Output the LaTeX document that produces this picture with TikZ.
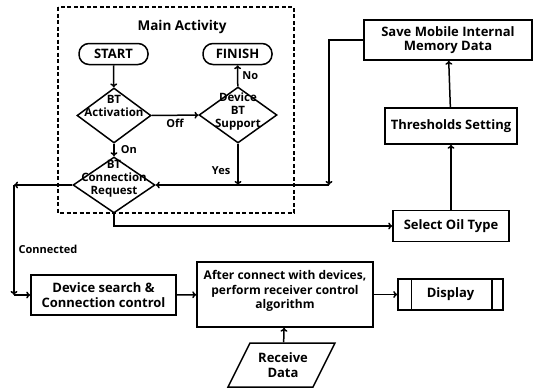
\documentclass[tikz,border=0pt]{standalone}
\usepackage{fontspec}
\setmainfont{Open Sans}
\usetikzlibrary{arrows.meta,shapes.geometric,positioning}

\begin{document}
\begin{tikzpicture}[x=1pt,y=-1pt,line width=1.5pt,
    >={To[length=4pt,width=7pt]},
    font=\bfseries\fontsize{13}{14.5}\selectfont,
    box/.style={draw,rectangle,align=center,inner sep=0pt},
    term/.style={draw,rounded corners=10pt,minimum width=69pt,minimum height=21pt,inner sep=0pt},
    dec/.style={draw,diamond,inner sep=0pt},
    txt/.style={align=center,inner sep=0pt},
    dtxt/.style={align=center,inner sep=0pt,font=\bfseries\fontsize{11.5}{13}\selectfont},
    lbl/.style={inner sep=1pt,font=\bfseries\fontsize{11}{13}\selectfont}]
\useasboundingbox (0,0) rectangle (534,389);

% Main activity frame
\draw[dash pattern=on 4pt off 2.5pt,line width=1.2pt] (58,7) rectangle (294,213);
\node[txt,font=\bfseries\fontsize{13.5}{15}\selectfont] (main) at (182,27) {Main Activity};

% terminals
\node[term] (start) at (113.5,54) {START};
\node[term] (finish) at (237.5,54) {FINISH};

% decisions
\node[dec,minimum width=74pt,minimum height=55pt] (act) at (114,115.5) {};
\node[dtxt] (acttxt) at (114,106) {BT\\Activation};
\node[dec,minimum width=78pt,minimum height=56pt] (dev) at (238,115) {};
\node[dtxt] (devtxt) at (238,112) {Device\\BT\\Support};
\node[dec,minimum width=82pt,minimum height=56pt] (conn) at (114,185) {};
\node[dtxt] (conntxt) at (114,179) {BT\\Connection\\Request};

% right column
\node[box,minimum width=168pt,minimum height=40pt] (save) at (448,40) {Save Mobile Internal\\Memory Data};
\node[box,minimum width=132pt,minimum height=36pt] (thr) at (451,126) {Thresholds Setting};
\node[box,minimum width=116pt,minimum height=31pt] (oil) at (451,226) {Select Oil Type};

% bottom row
\node[box,minimum width=145pt,minimum height=40pt] (search) at (103.5,295) {Device search \&\\Connection control};
\node[box,minimum width=176pt,minimum height=65pt] (after) at (285,294.5) {};
\node[txt,font=\bfseries\fontsize{12}{14.5}\selectfont] (aftertxt) at (285,291) {After connect with devices,\\perform receiver control\\algorithm};
\node[box,minimum width=105pt,minimum height=31pt] (disp) at (450.5,294.5) {Display};
\draw ([xshift=14pt]disp.north west) -- ([xshift=14pt]disp.south west);
\draw ([xshift=-12pt]disp.north east) -- ([xshift=-12pt]disp.south east);

% input data
\draw (250,343) -- (335,343) -- (313,387) -- (228,387) -- cycle;
\node[txt,minimum height=44pt] (recv) at (283,365) {Receive\\Data};

% junctions
\coordinate (yesj) at (238,185);
\coordinate (loopc) at (329,185);
\coordinate (lc) at (14,185);
\coordinate (lc2) at (14,295);

% flow
\draw[->] (start) -- (act);
\draw[->] (act) -- node[lbl,below=2pt] (off) {Off} (dev);
\draw[->] (dev) -- node[lbl,right=3pt] (no) {No} (finish);
\draw[->] (act) -- node[lbl,right=5pt] (on) {On} (conn);
\draw[->] (dev) -- node[lbl,left=6pt,pos=0.65] (yes) {Yes} (yesj);
\draw[->] (save.west) -| (loopc);
\draw[->] (loopc) -- (conn.east);
\draw[->] (conn.west) -- (lc);
\draw[->] (lc) -- (lc2);
\draw[->] (lc2) -- (search.west);
\node[lbl] (connected) at (48,249) {Connected};
\draw[->] (conn.south) |- (oil.west);
\draw[->] (oil) -- (thr);
\draw[->] (thr) -- (save);
\draw[->] (search) -- (after);
\draw[->] (after) -- (disp);
\draw[->] (recv) -- (after);

\end{tikzpicture}
\end{document}
